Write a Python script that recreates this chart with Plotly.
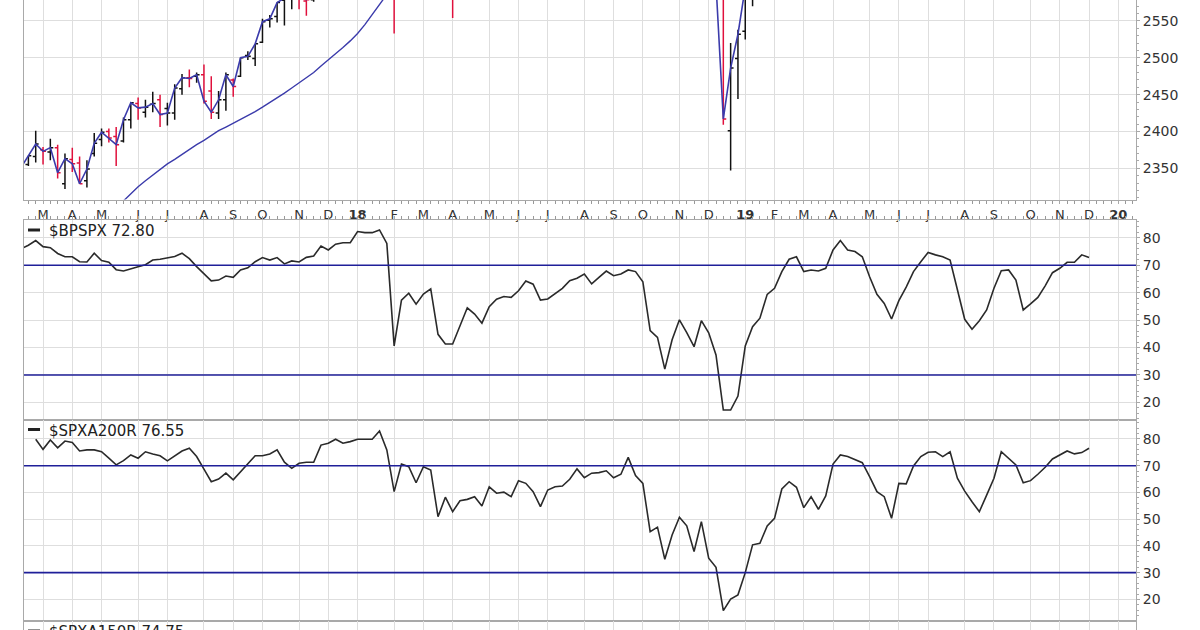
import plotly.graph_objects as go
import pandas as pd

# ---------------- data (weekly, dated by the Monday of each week) ----------------
first_week = "2017-02-13"
n_weeks = 147
weeks = pd.date_range(first_week, periods=n_weeks, freq="7D")

prev_close = 2316  # close of the week before the first bar

price_open = [
    2322, 2355, 2366, 2375, 2372, 2378, 2329, 2362, 2357, 2333,
    2370, 2389, 2400, 2393, 2387, 2416, 2438, 2426, 2437, 2443,
    2431, 2425, 2458, 2473, 2475, 2477, 2455, 2425, 2443, 2470,
    2475, 2503, 2499, 2521, 2551, 2556, 2578, 2580, 2587, 2577,
    2579, 2603, 2645, 2652, 2686, 2679, 2684, 2746, 2799, 2809,
    2867, 2741, 2637, 2723, 2757, 2681, 2791, 2741, 2619, 2633,
    2613, 2670, 2681, 2663, 2670, 2738, 2735, 2705, 2742, 2780,
    2766, 2760, 2705, 2776, 2798, 2799, 2819, 2840, 2828, 2854,
    2885, 2897, 2880, 2904, 2933, 2926, 2883, 2764, 2774, 2668,
    2726, 2774, 2731, 2650, 2791, 2631, 2591, 2401, 2499, 2536,
    2580, 2658, 2645, 2706, 2712, 2769, 2804, 2814, 2748, 2823,
    2796, 2849, 2888, 2908, 2899, 2941, 2909, 2840, 2842, 2830,
    2752, 2886, 2890, 2951, 2971, 2980, 3019, 2982, 3024, 2898,
    2907, 2913, 2867, 2909, 2988, 3002, 2984, 2967, 2944, 2966,
    2996, 3035, 3079, 3089, 3118, 3117, 3144,
]
price_high = [
    2351, 2367, 2401, 2379, 2390, 2382, 2370, 2378, 2366, 2361,
    2398, 2404, 2404, 2406, 2419, 2440, 2446, 2443, 2454, 2450,
    2439, 2464, 2478, 2484, 2480, 2491, 2475, 2455, 2480, 2472,
    2500, 2509, 2519, 2553, 2558, 2575, 2583, 2588, 2597, 2590,
    2604, 2658, 2665, 2680, 2695, 2692, 2743, 2788, 2810, 2873,
    2871, 2763, 2754, 2748, 2789, 2787, 2802, 2741, 2665, 2672,
    2680, 2717, 2684, 2683, 2733, 2742, 2742, 2743, 2780, 2791,
    2779, 2764, 2764, 2805, 2817, 2848, 2848, 2863, 2856, 2876,
    2917, 2900, 2908, 2941, 2940, 2940, 2895, 2813, 2779, 2756,
    2815, 2776, 2735, 2761, 2800, 2685, 2601, 2520, 2538, 2598,
    2675, 2670, 2709, 2744, 2776, 2795, 2813, 2817, 2831, 2860,
    2836, 2893, 2911, 2910, 2940, 2954, 2937, 2892, 2868, 2841,
    2884, 2911, 2964, 2961, 2996, 3018, 3019, 3028, 3028, 2943,
    2943, 2939, 2940, 2986, 3020, 3022, 2999, 2984, 2993, 3003,
    3027, 3067, 3098, 3120, 3128, 3154, 3144,
]
price_low = [
    2313, 2353, 2358, 2355, 2361, 2336, 2322, 2345, 2329, 2324,
    2366, 2380, 2385, 2353, 2385, 2404, 2416, 2419, 2426, 2406,
    2408, 2416, 2450, 2460, 2466, 2438, 2417, 2417, 2428, 2447,
    2474, 2497, 2489, 2520, 2541, 2548, 2544, 2566, 2566, 2557,
    2576, 2597, 2625, 2652, 2676, 2673, 2682, 2736, 2763, 2808,
    2760, 2533, 2622, 2676, 2647, 2675, 2741, 2586, 2593, 2554,
    2586, 2660, 2613, 2595, 2655, 2702, 2704, 2677, 2742, 2760,
    2742, 2699, 2699, 2770, 2789, 2799, 2795, 2825, 2802, 2853,
    2884, 2864, 2874, 2886, 2903, 2874, 2711, 2749, 2628, 2604,
    2717, 2671, 2631, 2649, 2622, 2583, 2409, 2347, 2444, 2525,
    2570, 2613, 2631, 2687, 2700, 2764, 2775, 2722, 2746, 2795,
    2785, 2848, 2873, 2891, 2898, 2913, 2825, 2801, 2805, 2751,
    2729, 2874, 2887, 2912, 2952, 2966, 2975, 2976, 2914, 2822,
    2840, 2835, 2856, 2891, 2988, 2985, 2952, 2856, 2892, 2952,
    2991, 3023, 3072, 3077, 3091, 3107, 3070,
]
price_close = [
    2351, 2367, 2383, 2373, 2378, 2344, 2363, 2356, 2329, 2349,
    2384, 2399, 2391, 2382, 2416, 2439, 2432, 2433, 2438, 2423,
    2425, 2459, 2473, 2472, 2477, 2441, 2426, 2443, 2477, 2461,
    2500, 2502, 2519, 2549, 2553, 2575, 2581, 2588, 2582, 2579,
    2602, 2642, 2652, 2676, 2683, 2674, 2743, 2786, 2810, 2873,
    2762, 2620, 2732, 2747, 2691, 2787, 2752, 2588, 2641, 2604,
    2656, 2670, 2670, 2663, 2728, 2713, 2721, 2735, 2779, 2780,
    2755, 2718, 2760, 2801, 2802, 2819, 2840, 2833, 2850, 2875,
    2902, 2872, 2905, 2930, 2914, 2886, 2767, 2768, 2659, 2723,
    2781, 2736, 2633, 2760, 2633, 2600, 2417, 2486, 2532, 2596,
    2671, 2665, 2707, 2708, 2776, 2793, 2804, 2743, 2822, 2801,
    2834, 2893, 2907, 2905, 2940, 2946, 2881, 2860, 2826, 2752,
    2873, 2887, 2950, 2942, 2990, 3014, 2977, 3026, 2932, 2919,
    2889, 2847, 2926, 2979, 3007, 2992, 2962, 2952, 2970, 2986,
    3023, 3067, 3093, 3120, 3110, 3141, 3114,
]
# 200-day (40-week) moving average, only where it is inside the visible price window
ma_200 = [None] * 13 + [
    2296, 2306, 2315, 2325, 2333, 2341, 2349, 2356, 2362, 2369,
    2376, 2382, 2388, 2395, 2401, 2406, 2411, 2416, 2421, 2427,
    2433, 2439, 2446, 2452, 2459, 2466, 2473, 2480, 2489, 2497,
    2505, 2514, 2523, 2533, 2545, 2558, 2572, 2586, 2600,
] + [None] * 95

bpspx = [
    76.0, 77.3, 79.0, 76.8, 76.4, 74.3, 73.1, 73.1, 71.3, 71.2,
    74.4, 71.7, 71.1, 68.4, 67.9, 68.8, 69.5, 70.2, 71.9, 72.2,
    72.6, 73.2, 74.4, 72.4, 69.5, 66.8, 64.3, 64.6, 66.1, 65.6,
    68.3, 69.1, 71.3, 72.8, 71.9, 72.8, 70.5, 71.6, 71.2, 72.9,
    73.4, 77.0, 75.6, 77.7, 78.2, 78.2, 82.3, 81.9, 81.9, 82.9,
    78.0, 40.6, 57.3, 59.8, 55.8, 59.5, 61.4, 44.8, 41.3, 41.3,
    47.6, 54.5, 52.2, 48.9, 54.9, 57.6, 58.6, 58.3, 60.7, 64.3,
    63.1, 57.3, 57.7, 59.8, 61.6, 64.4, 65.3, 66.8, 63.2, 65.6,
    67.9, 66.2, 66.8, 68.3, 67.7, 64.0, 46.2, 43.7, 32.1, 42.8,
    50.1, 45.4, 40.3, 49.8, 45.4, 37.3, 17.2, 17.2, 22.3, 40.6,
    47.6, 50.7, 59.4, 61.6, 67.7, 72.2, 73.1, 67.7, 68.3, 67.9,
    68.9, 75.6, 79.0, 75.6, 75.0, 73.1, 65.8, 59.4, 56.1, 50.4,
    57.1, 62.0, 67.7, 71.3, 74.7, 73.8, 73.1, 71.9, 61.0, 50.3,
    46.7, 49.8, 53.7, 61.6, 68.0, 68.3, 64.6, 53.7, 55.9, 58.3,
    62.5, 67.3, 68.9, 71.1, 71.1, 73.8, 72.8,
]
spxa200r = [
    None, None, 79.9, 76.1, 79.6, 76.7, 79.2, 78.7, 75.5, 75.9,
    75.9, 75.2, 72.8, 70.3, 71.9, 74.0, 72.8, 75.2, 74.4, 73.7,
    71.8, 73.7, 75.5, 76.5, 73.4, 68.7, 64.0, 65.0, 67.2, 64.7,
    67.8, 70.6, 73.7, 73.7, 74.4, 75.9, 71.3, 69.0, 70.9, 71.3,
    71.3, 77.7, 78.4, 79.9, 78.4, 79.0, 79.9, 79.9, 79.9, 83.0,
    75.9, 60.3, 70.6, 69.6, 63.6, 69.6, 68.4, 50.9, 58.2, 52.8,
    56.9, 57.4, 58.4, 54.9, 62.1, 59.7, 60.1, 58.4, 64.4, 63.4,
    60.3, 54.7, 60.9, 62.1, 62.4, 64.9, 68.8, 65.5, 67.2, 67.4,
    68.1, 65.5, 66.8, 73.1, 66.3, 63.4, 45.3, 47.0, 35.0, 44.1,
    50.7, 47.5, 37.9, 49.1, 35.4, 32.0, 15.8, 20.1, 21.7, 30.0,
    40.4, 41.0, 47.5, 50.3, 61.3, 64.0, 61.9, 54.3, 58.4, 53.7,
    58.7, 70.6, 74.0, 73.4, 72.1, 71.1, 65.9, 60.3, 58.4, 50.3,
    63.4, 63.2, 69.9, 73.4, 75.0, 75.2, 73.4, 75.2, 65.3, 60.5,
    56.5, 52.8, 59.0, 65.3, 75.2, 72.8, 70.3, 63.6, 64.4, 66.8,
    69.4, 72.5, 74.0, 75.5, 74.4, 74.9, 76.5,
]

month_ticks = [
    "2017-03-06", "2017-04-03", "2017-05-01", "2017-06-05", "2017-07-03", "2017-08-07",
    "2017-09-04", "2017-10-02", "2017-11-06", "2017-12-04",
    "2018-01-01", "2018-02-05", "2018-03-05", "2018-04-02", "2018-05-07", "2018-06-04",
    "2018-07-02", "2018-08-06", "2018-09-03", "2018-10-01", "2018-11-05", "2018-12-03",
    "2019-01-07", "2019-02-04", "2019-03-04", "2019-04-01", "2019-05-06", "2019-06-03",
    "2019-07-01", "2019-08-05", "2019-09-02", "2019-10-07", "2019-11-04", "2019-12-02",
    "2019-12-30",
]
month_labels = [
    "M", "A", "M", "J", "J", "A", "S", "O", "N", "D",
    "<b>18</b>", "F", "M", "A", "M", "J", "J", "A", "S", "O", "N", "D",
    "<b>19</b>", "F", "M", "A", "M", "J", "J", "A", "S", "O", "N", "D",
    "<b>20</b>",
]
ref_levels = [30, 70]
last_bpspx = "72.80"
last_a200 = "76.55"
last_a150 = "74.75"

# ---------------- styling ----------------
GRID = "#dedede"
BORDER = "#a9a9a9"
NAVY = "#1f1f99"
BLUE = "#3b3bab"
RED = "#e0103c"
INK = "#222222"
X_RANGE = ["2017-02-15 19:00", "2020-01-15 22:00"]
FONT_X = dict(family="DejaVu Sans, Verdana, sans-serif", size=13, color="#333333")
FONT_Y = dict(family="DejaVu Sans, Verdana, sans-serif", size=14, color="#333333")
FONT_LBL = dict(family="DejaVu Sans, Verdana, sans-serif", size=15, color=INK)

prevs = [prev_close] + price_close[:-1]
up_idx = [i for i in range(n_weeks) if price_close[i] >= prevs[i]]
dn_idx = [i for i in range(n_weeks) if price_close[i] < prevs[i]]


def pick(seq, idx):
    return [seq[i] for i in idx]


fig = go.Figure()
for idx, col in ((up_idx, "#111111"), (dn_idx, RED)):
    fig.add_trace(go.Ohlc(
        x=pick(weeks, idx), open=pick(price_open, idx), high=pick(price_high, idx),
        low=pick(price_low, idx), close=pick(price_close, idx),
        increasing_line_color=col, decreasing_line_color=col,
        line_width=1.5, tickwidth=0.4, xaxis="x", yaxis="y", hoverinfo="skip",
    ))
fig.add_trace(go.Scatter(x=weeks, y=ma_200, mode="lines", line=dict(color=BLUE, width=1.4),
                         xaxis="x", yaxis="y", hoverinfo="skip"))
fig.add_trace(go.Scatter(x=weeks, y=price_close, mode="lines", line=dict(color=BLUE, width=1.6),
                         xaxis="x", yaxis="y", hoverinfo="skip"))
fig.add_trace(go.Scatter(x=weeks, y=bpspx, mode="lines", line=dict(color="#2a2a2a", width=1.6),
                         xaxis="x2", yaxis="y2", hoverinfo="skip"))
fig.add_trace(go.Scatter(x=weeks, y=spxa200r, mode="lines", line=dict(color="#2a2a2a", width=1.6),
                         xaxis="x3", yaxis="y3", hoverinfo="skip"))
fig.add_trace(go.Scatter(x=[weeks[0]], y=[None], mode="lines", xaxis="x4", yaxis="y4", hoverinfo="skip"))

H = 630.0


def dom(top_px, bot_px):
    return [max(0.0, (H - bot_px) / H), min(1.0, (H - top_px) / H)]


week_ms = 7 * 24 * 3600 * 1000
xcommon = dict(type="date", range=X_RANGE, tickvals=month_ticks, ticktext=month_labels,
               showgrid=True, gridcolor=GRID, gridwidth=1, zeroline=False,
               showline=True, linecolor=BORDER, linewidth=1, rangeslider=dict(visible=False))
ycommon = dict(side="right", showgrid=True, gridcolor=GRID, zeroline=False, showline=True,
               mirror=True, linecolor=BORDER, ticks="outside", ticklen=3, tickcolor=BORDER,
               tickfont=FONT_Y)

fig.update_layout(
    width=1200, height=630, margin=dict(l=24, r=64, t=0, b=0),
    paper_bgcolor="white", plot_bgcolor="white", showlegend=False,
    xaxis=dict(xcommon, domain=[0, 1], anchor="y", ticks="outside", ticklen=3, tickcolor=BORDER,
               tickfont=FONT_X,
               minor=dict(ticks="outside", ticklen=3, tickcolor="#999999", dtick=week_ms,
                          tick0=first_week, showgrid=False)),
    xaxis2=dict(xcommon, domain=[0, 1], anchor="y2", matches="x", side="top", mirror=True,
                showticklabels=False, ticks="outside", ticklen=3, tickcolor=BORDER,
                minor=dict(ticks="outside", ticklen=3, tickcolor="#999999", dtick=week_ms,
                           tick0=first_week, showgrid=False)),
    xaxis3=dict(xcommon, domain=[0, 1], anchor="y3", matches="x", mirror=True, showticklabels=False),
    xaxis4=dict(xcommon, domain=[0, 1], anchor="y4", matches="x", mirror=True, showticklabels=False),
    yaxis=dict(ycommon, domain=dom(0, 199.5), range=[2307.6, 2578.5], dtick=50,
               minor=dict(ticks="outside", ticklen=2, dtick=10, tickcolor="#aaaaaa", showgrid=False)),
    yaxis2=dict(ycommon, domain=dom(220, 420), range=[13.56, 86.52], dtick=10,
                minor=dict(ticks="outside", ticklen=2, dtick=2, tickcolor="#aaaaaa", showgrid=False)),
    yaxis3=dict(ycommon, domain=dom(420, 620.7), range=[12.03, 87.08], dtick=10,
                minor=dict(ticks="outside", ticklen=2, dtick=2, tickcolor="#aaaaaa", showgrid=False)),
    yaxis4=dict(domain=dom(620.7, 640), range=[0, 1], side="right", showgrid=False, zeroline=False,
                showticklabels=False, showline=True, mirror=True, linecolor=BORDER),
)

for yref in ("y2", "y3"):
    for lvl in ref_levels:
        fig.add_shape(type="line", xref=yref.replace("y", "x") + " domain", x0=0, x1=1,
                      yref=yref, y0=lvl, y1=lvl, line=dict(color=NAVY, width=1.6), layer="above")


def px_x(p):
    return (p - 24) / 1112.0


def px_y(p):
    return (H - p) / H


for name, val, ypx in (("$BPSPX", last_bpspx, 231), ("$SPXA200R", last_a200, 430.5),
                       ("$SPXA150R", last_a150, 632)):
    fig.add_shape(type="line", xref="paper", yref="paper", x0=px_x(28), x1=px_x(40),
                  y0=px_y(ypx - 1), y1=px_y(ypx - 1), line=dict(color=INK, width=3))
    fig.add_annotation(xref="paper", yref="paper", x=px_x(47), y=px_y(ypx), xanchor="left",
                       yanchor="middle", text=f"{name} {val}", showarrow=False, font=FONT_LBL)

fig.write_html("out.html", config={"displayModeBar": False, "staticPlot": True},
               post_script="document.body.style.margin='0';document.body.style.overflow='hidden';")
